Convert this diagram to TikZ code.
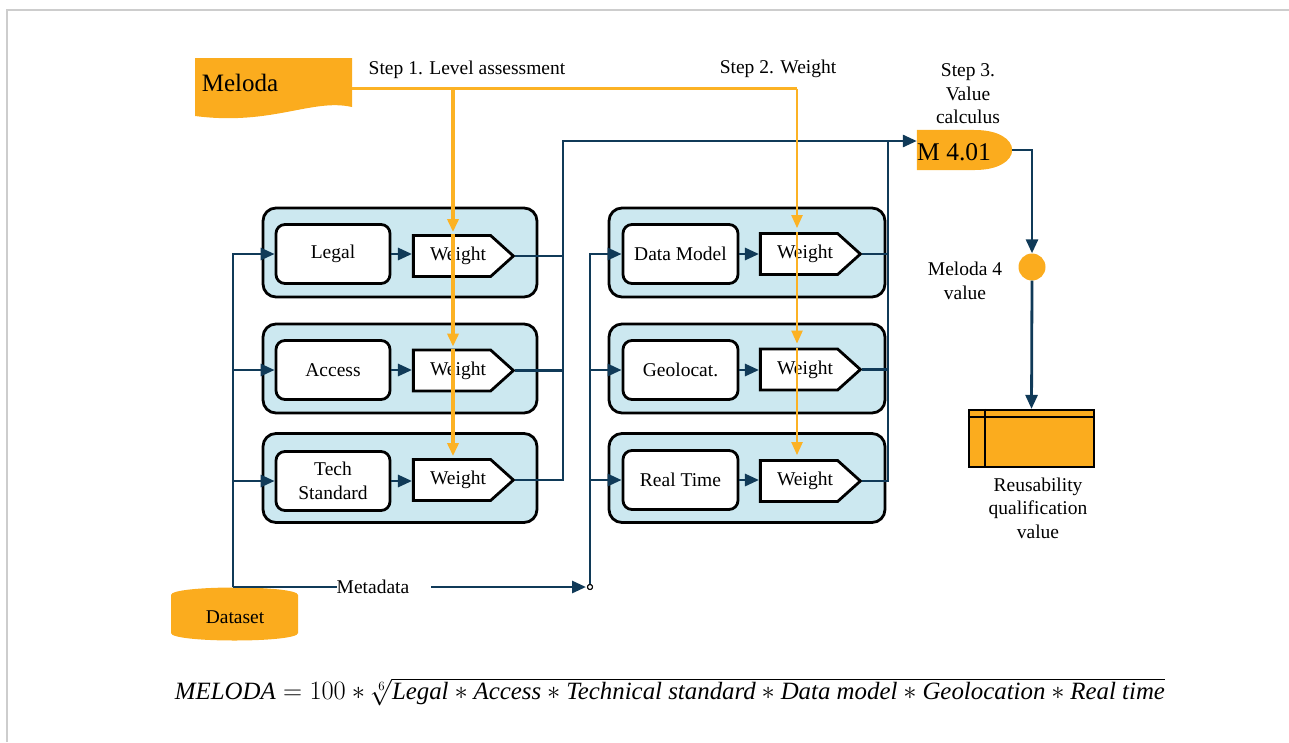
\documentclass[tikz,border=0pt]{standalone}
\usepackage{fontspec}
\setmainfont{Liberation Serif}
\usepackage{graphicx}
\usetikzlibrary{shapes.symbols,arrows.meta}
\definecolor{morange}{RGB}{251,172,30}
\definecolor{mline}{RGB}{252,178,36}
\definecolor{mblue}{RGB}{16,58,88}
\definecolor{mlight}{RGB}{204,232,240}
\definecolor{mframe}{RGB}{205,205,205}
\begin{document}
\begin{tikzpicture}[x=1pt,y=-1pt,
  font=\fontsize{19.5}{23.5}\selectfont,
  container/.style={draw=black, line width=2.8pt, fill=mlight, rounded corners=13pt, minimum height=89, inner sep=0},
  inbox/.style={draw=black, line width=2.8pt, fill=white, rounded corners=9pt, minimum width=114, minimum height=59, inner sep=0, align=center},
  wbox/.style={signal, signal to=east, signal pointer angle=84, draw=black, line width=2.8pt, fill=white, minimum width=100, minimum height=41, inner sep=0,
    label={[inner sep=0, xshift=6pt]center:Weight}},
  bline/.style={draw=mblue, line width=2.8pt},
  barrow/.style={bline, -{Triangle[length=14pt,width=12pt]}},
  oline/.style={draw=mline, line width=2.5pt},
  oarrow/.style={oline, -{Triangle[length=13pt,width=11pt]}},
  lbl/.style={align=center, inner sep=0},
]
\useasboundingbox (0,0) rectangle (1289,742);
\draw[mframe, line width=2pt] (7,742) -- (7,10) -- (1289,10);

% Meloda document
\fill[morange] (195,58) -- (352,58) -- (352,107) .. controls (312,98) and (272,126) .. (195,116) -- cycle;
\node[lbl, font=\fontsize{25}{30}\selectfont] (meloda) at (240,83) {Meloda};
\coordinate (melR) at (352,88.5);

% step labels
\node[lbl] (s1) at (467,70) {Step 1. Level assessment};
\node[lbl] (s2) at (778,69) {Step 2. Weight};
\node[lbl] (s3) at (968,94) {Step 3.\\Value\\calculus};

% containers
\node[container, minimum width=274] (c1) at (400,252.5) {};
\node[container, minimum width=274] (c2) at (400,368.5) {};
\node[container, minimum width=274] (c3) at (400,478) {};
\node[container, minimum width=276] (c4) at (747,252.5) {};
\node[container, minimum width=276] (c5) at (747,368.5) {};
\node[container, minimum width=276] (c6) at (747,478) {};

% inner boxes
\node[inbox] (legal) at (333,254) {Legal};
\node[inbox] (access) at (333,370) {Access};
\node[inbox] (tech) at (333,481) {Tech\\Standard};
\node[inbox, minimum width=115] (dm) at (680.5,254) {Data Model};
\node[inbox, minimum width=115] (geo) at (680.5,370) {Geolocat.};
\node[inbox, minimum width=115] (rt) at (680.5,480) {Real Time};

% weights
\node[wbox] (legalW) at (452,256) {\phantom{Weight}};
\node[wbox] (accessW) at (452,370.5) {\phantom{Weight}};
\node[wbox] (techW) at (452,480) {\phantom{Weight}};
\node[wbox] (dmW) at (799,254) {\phantom{Weight}};
\node[wbox] (geoW) at (799,369.5) {\phantom{Weight}};
\node[wbox] (rtW) at (799,481) {\phantom{Weight}};

\foreach \a/\b in {legal/legalW,access/accessW,tech/techW,dm/dmW,geo/geoW,rt/rtW}
  \draw[barrow] (\a.east) -- (\a.east -| \b.west);

% M 4.01
\node[inner sep=0, minimum width=95, minimum height=40] (m401) at (964.5,150) {};
\fill[morange] (m401.north west) -- (975,130) .. controls (998,130) and (1012,139) .. (m401.east) .. controls (1012,161) and (998,170) .. (975,170) -- (m401.south west) -- cycle;
\node[inner sep=0, anchor=west, font=\fontsize{25.5}{30}\selectfont] (m401t) at (917,152) {M 4.01};

% value circle and result
\node[circle, fill=morange, inner sep=0, minimum size=27] (mval) at (1032,267) {};
\node[lbl] (mvall) at (965,281) {Meloda 4\\value};
\node[draw=black, line width=2.2pt, fill=morange, minimum width=125, minimum height=57, inner sep=0] (reuse) at (1031.5,438.5) {};
\draw[black, line width=2.2pt] (reuse.north west) ++(0,8) -- ++(125,0);
\draw[black, line width=2.2pt] (reuse.north west) ++(17,0) -- ++(0,57);
\node[lbl] (reusel) at (1038,508) {Reusability\\qualification\\value};

% dataset
\fill[morange] (171,595) -- (171,633) .. controls (171,643) and (298,643) .. (298,633) -- (298,595) .. controls (298,585) and (171,585) .. (171,595) -- cycle;
\node[lbl] (dataset) at (235,617) {Dataset};

% dataset connectors
\coordinate (dsj) at (233,587);
\draw[barrow] (dsj) |- (legal.west);
\draw[barrow] (dsj) |- (access.west);
\draw[barrow] (dsj) |- (tech.west);
\node[lbl] (meta) at (373,587) {Metadata};
\draw[bline] (dsj) -- (meta.west);
\node[circle, draw=black, fill=white, line width=1pt, inner sep=0, minimum size=5] (mj) at (590,587) {};
\draw[barrow, shorten >=1pt] ([xshift=22pt]meta.east) -- (mj.west);
\draw[barrow] (mj.north) |- (dm.west);
\draw[barrow] (mj.north) |- (geo.west);
\draw[barrow] (mj.north) |- (rt.west);
\node[circle, draw=black, fill=white, line width=1pt, inner sep=0, minimum size=5] at (mj) {};

% output connectors
\coordinate (jl) at (563,141);
\coordinate (jr) at (888,141);
\draw[barrow] (techW.east) -| (jl) -- (jl -| m401.west);
\draw[bline] (legalW.east) -- (legalW.east -| jl);
\draw[bline] (accessW.east) -- (accessW.east -| jl);
\draw[bline] (rtW.east) -| (jr);
\draw[bline] (dmW.east) -- (dmW.east -| jr);
\draw[bline] (geoW.east) -- (geoW.east -| jr);
\draw[barrow] (m401.east) -| (mval.north);
\draw[barrow] (mval.south) -- (reuse.north);

% orange step lines
\coordinate (o1) at (453,88.5);
\coordinate (o2) at (797,88.5);
\draw[oline] (melR) -- (o2);
\draw[oarrow, line width=3.8pt, shorten >=2pt] (o1) -- (o1 |- legalW.north);
\draw[oarrow, line width=3.8pt, shorten >=2pt] (o1 |- legalW.north) -- (o1 |- accessW.north);
\draw[oarrow, line width=3.8pt, shorten >=2pt] (o1 |- accessW.north) -- (o1 |- techW.north);
\draw[oarrow, line width=2.2pt, shorten >=4pt] (o2) -- (o2 |- dmW.north);
\draw[oarrow, line width=2.2pt, shorten >=4pt] (o2 |- dmW.north) -- (o2 |- geoW.north);
\draw[oarrow, line width=2.2pt, shorten >=4pt] (o2 |- geoW.north) -- (o2 |- rtW.north);

% formula
\node[inner sep=0] (formula) at (670,692) {\resizebox{990pt}{!}{$\textit{MELODA} = 100 \ast \sqrt[6]{\textit{Legal} \ast \textit{Access} \ast \textit{Technical standard} \ast \textit{Data model} \ast \textit{Geolocation} \ast \textit{Real time}}$}};
\end{tikzpicture}
\end{document}
